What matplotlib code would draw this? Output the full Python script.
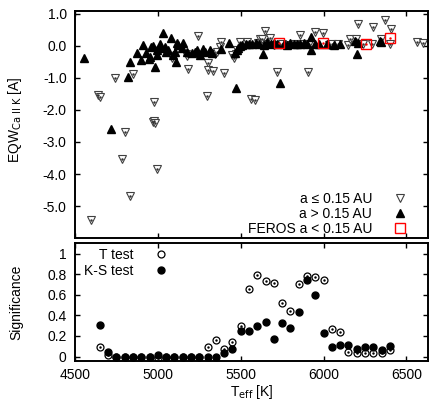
import matplotlib
matplotlib.use("Agg")
import matplotlib.pyplot as plt
from matplotlib.ticker import FormatStrFormatter, FuncFormatter

plt.rcParams['font.family'] = ['Liberation Sans', 'DejaVu Sans']
plt.rcParams['axes.unicode_minus'] = False
plt.rcParams['font.size'] = 10

# --- top panel: EQW of Ca II K vs Teff ---
# a <= 0.15 AU (open down triangles)
teff_close = [4596, 4641, 4651, 4741, 4781, 4801, 4832, 4852, 4976, 4968, 4975, 4982,
              4993, 5083, 5168, 5175, 5183, 5244, 5294, 5304, 5304, 5334, 5344, 5354,
              5378, 5384, 5400, 5450, 5460, 5470, 5480, 5495, 5535, 5565, 5585, 5605,
              5616, 5626, 5646, 5660, 5676, 5700, 5716, 5750, 5790, 5830, 5857, 5870,
              5907, 5910, 5947, 5997, 6030, 6048, 6088, 6148, 6158, 6198, 6208, 6240,
              6293, 6299, 6349, 6369, 6400, 6405, 6566, 6600]
eqw_close = [-5.44, -1.53, -1.61, -1.01, -3.53, -2.69, -4.67, -0.88, -1.77, -2.39, -2.36, -2.42,
             -3.84, -0.39, -0.26, -0.33, -0.73, 0.29, -1.57, -0.55, -0.75, -0.79, -0.27, -0.19,
             -0.03, 0.11, -0.84, -0.30, -0.38, -0.25, -0.15, 0.10, 0.12, -1.66, -1.69, 0.09,
             0.22, 0.20, 0.47, 0.06, 0.25, 0.02, -0.81, 0.05, 0.03, 0.04, 0.34, 0.04,
             -0.81, 0.05, 0.42, 0.38, 0.03, 0.05, 0.04, 0.02, 0.20, 0.20, 0.67, 0.05,
             0.05, 0.58, 0.20, 0.80, 0.05, 0.52, 0.10, 0.08]

# a > 0.15 AU (filled up triangles)
teff_far = [4554, 4715, 4821, 4832, 4876, 4896, 4908, 4928, 4948, 4952, 4957, 4972,
            4982, 4993, 4993, 5012, 5013, 5032, 5043, 5050, 5063, 5077, 5090, 5103,
            5109, 5113, 5123, 5143, 5153, 5173, 5204, 5224, 5234, 5254, 5274, 5284,
            5314, 5324, 5384, 5431, 5465, 5469, 5475, 5485, 5495, 5510, 5530, 5550,
            5570, 5590, 5610, 5636, 5640, 5660, 5680, 5700, 5720, 5736, 5760, 5780,
            5800, 5820, 5840, 5860, 5880, 5900, 5923, 5927, 5950, 5970, 6020, 6060,
            6100, 6188, 6199, 6208, 6339, 6349]
eqw_far = [-0.37, -2.60, -0.99, -0.50, -0.22, -0.44, 0.02, -0.22, -0.42, -0.34, -0.03, -0.01,
           -0.65, -0.29, -0.13, 0.04, -0.08, 0.40, -0.03, -0.20, -0.13, 0.23, -0.30, -0.19,
           -0.50, 0.07, 0.02, -0.08, 0.08, -0.19, -0.24, -0.19, -0.13, -0.29, -0.11, -0.19,
           -0.13, -0.24, -0.11, 0.07, -0.24, -1.32, -0.15, -0.08, -0.02, 0.03, 0.05, 0.06,
           0.04, 0.08, 0.05, -0.25, 0.03, 0.10, 0.06, 0.07, 0.04, -1.17, 0.06, 0.03,
           0.07, 0.05, 0.04, 0.06, 0.08, 0.05, -0.12, 0.26, 0.04, 0.06, 0.05, 0.03,
           0.04, 0.15, -0.27, 0.07, 0.15, 0.10]

# FEROS a < 0.15 AU (red squares)
teff_feros = [5732, 5997, 6259, 6400]
eqw_feros = [0.07, 0.09, 0.05, 0.23]

# --- bottom panel: significance of tests ---
teff_sig = [4650, 4700, 4750, 4800, 4850, 4900, 4950, 5000, 5050, 5100, 5150, 5200,
            5250, 5300, 5350, 5400, 5450, 5500, 5550, 5600, 5650, 5700, 5750, 5800,
            5850, 5900, 5950, 6000, 6050, 6100, 6150, 6200, 6250, 6300, 6350, 6400]
t_test = [0.09, 0.02, 0.0, 0.0, 0.0, 0.0, 0.0, -0.01, 0.0, 0.0, 0.0, 0.0,
          0.0, 0.09, 0.16, 0.07, 0.14, 0.30, 0.66, 0.79, 0.73, 0.71, 0.52, 0.445,
          0.70, 0.78, 0.77, 0.74, 0.27, 0.24, 0.045, 0.035, 0.035, 0.035, 0.03, 0.06]
ks_test = [0.31, 0.045, 0.0, 0.0, 0.0, 0.0, 0.0, 0.02, 0.0, 0.0, 0.0, 0.0,
           0.0, 0.0, 0.0, 0.035, 0.078, 0.25, 0.25, 0.30, 0.34, 0.17, 0.33, 0.28,
           0.43, 0.74, 0.60, 0.23, 0.094, 0.11, 0.11, 0.074, 0.094, 0.094, 0.068, 0.10]

fig = plt.figure(figsize=(4.3, 4.04), dpi=100)
ax1 = fig.add_axes([0.1744, 0.4101, 0.8209, 0.5627])
ax2 = fig.add_axes([0.1744, 0.1072, 0.8209, 0.2906])

ax1.plot(teff_close, eqw_close, ls='none', marker='v', ms=5.5, mfc='white', mec='0.25',
         mew=0.8, label='a \u2264 0.15 AU')
ax1.plot(teff_close, eqw_close, ls='none', marker='.', ms=1.5, color='0.2')
ax1.plot(teff_far, eqw_far, ls='none', marker='^', ms=5.5, color='black',
         label='a > 0.15 AU')
ax1.plot(teff_feros, eqw_feros, ls='none', marker='s', ms=6.5, mfc='none', mec='red',
         mew=1.0, label='FEROS a < 0.15 AU')
ax1.plot(teff_feros, eqw_feros, ls='none', marker='.', ms=1.5, color='red')

ax2.plot(teff_sig, t_test, ls='none', marker='o', ms=5, mfc='white', mec='black',
         mew=0.9, label='T test')
ax2.plot(teff_sig, t_test, ls='none', marker='.', ms=1.5, color='black')
ax2.plot(teff_sig, ks_test, ls='none', marker='o', ms=5, color='black', label='K-S test')

for ax in (ax1, ax2):
    ax.set_xlim(4500, 6630)
    ax.set_xticks([4500, 5000, 5500, 6000, 6500])
    ax.tick_params(direction='in', top=True, right=True, length=3.5, width=1.0)
    ax.tick_params(axis='y', pad=6)
    ax.tick_params(axis='x', pad=5)
    for s in ax.spines.values():
        s.set_linewidth(1.4)

ax1.set_ylim(-6.0, 1.08)
ax1.set_yticks([1, 0, -1, -2, -3, -4, -5])
ax1.yaxis.set_major_formatter(FormatStrFormatter('%.1f'))
ax1.tick_params(labelbottom=False)
ax1.set_ylabel(r'EQW$_{\rm Ca\ II\ K}$ [A]')
ax1.yaxis.set_label_coords(-0.145, 0.52)

ax2.set_ylim(-0.04, 1.1)
ax2.set_yticks([0, 0.2, 0.4, 0.6, 0.8, 1.0])
ax2.yaxis.set_major_formatter(FuncFormatter(lambda v, p: '%g' % v))
ax2.set_ylabel('Significance')
ax2.yaxis.set_label_coords(-0.145, 0.5)
ax2.set_xlabel(r'T$_{\rm eff}$ [K]', labelpad=1)

ax1.legend(loc='lower right', bbox_to_anchor=(0.968, 0.0), frameon=False,
           markerfirst=False, handletextpad=1.0, labelspacing=0.05,
           borderaxespad=0, borderpad=0.2)
ax2.legend(loc='upper left', bbox_to_anchor=(0.018, 0.981), frameon=False,
           markerfirst=False, handletextpad=1.0, labelspacing=0.1,
           borderaxespad=0, borderpad=0.2)

fig.savefig('out.png', dpi=100)
